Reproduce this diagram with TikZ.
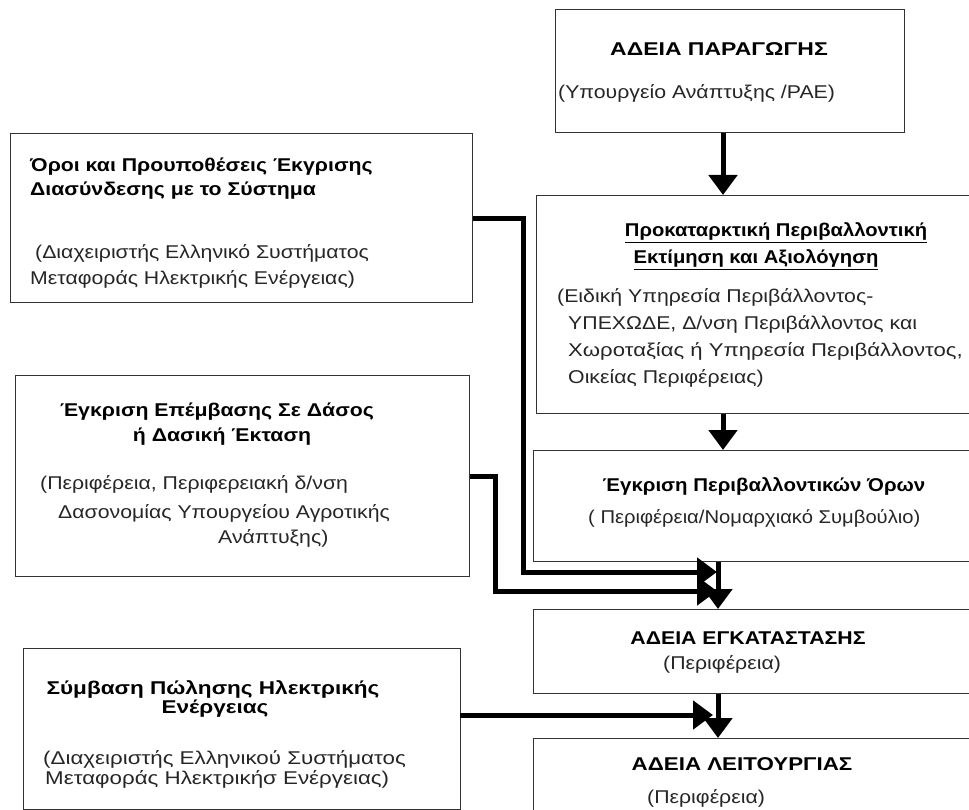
\documentclass[tikz,border=0pt]{standalone}
\usepackage{fontspec}
\setmainfont{Liberation Sans}[FakeStretch=1.15]
\usetikzlibrary{arrows.meta}
\newcommand{\sx}[2]{\scalebox{#1}[1]{#2}}
\begin{document}
\begin{tikzpicture}[x=1pt,y=-1pt,
  box/.style={draw=black!80, line width=1.3pt, rectangle, inner sep=0pt, anchor=north west},
  conn/.style={line width=5pt, black},
  arr/.style={-{Triangle[width=28pt,length=20pt]}},
  tt/.style={inner sep=0pt, font=\bfseries\fontsize{18.5}{22}\selectfont, text=black},
  st/.style={inner sep=0pt, font=\fontsize{18.5}{22}\selectfont, text=black!85}]
\useasboundingbox (0,0) rectangle (969,810);
\clip (0,0) rectangle (969,810);
\fill[white] (0,0) rectangle (969,810);

% boxes
\node[box, minimum width=349pt, minimum height=123pt] (b1) at (555,9) {};
\node[box, minimum width=444pt, minimum height=218pt] (b2) at (536,195) {};
\node[box, minimum width=462pt, minimum height=169pt] (b3) at (10,133) {};
\node[box, minimum width=454pt, minimum height=201pt] (b4) at (15,375) {};
\node[box, minimum width=447pt, minimum height=111pt] (b5) at (533,450) {};
\node[box, minimum width=447pt, minimum height=84pt] (b6) at (533,609) {};
\node[box, minimum width=447pt, minimum height=90pt] (b7) at (533,738) {};
\node[box, minimum width=437pt, minimum height=161pt] (b8) at (23,648) {};

% texts box 1
\node[tt, anchor=base] (t1) at (719,56) {\sx{1.08}{ΑΔΕΙΑ ΠΑΡΑΓΩΓΗΣ}};
\node[st, anchor=base west] (s1) at (558,99) {(Υπουργείο Ανάπτυξης /PAE)};

% box 3
\node[tt, anchor=base west] (t3a) at (30,172) {Όροι και Προυποθέσεις Έκγρισης};
\node[tt, anchor=base west] (t3b) at (30,196) {Διασύνδεσης με το Σύστημα};
\node[st, anchor=base west] (s3a) at (35,259) {(Διαχειριστής Ελληνικό Συστήματος};
\node[st, anchor=base west] (s3b) at (30,285) {Μεταφοράς Ηλεκτρικής Ενέργειας)};

% box 2
\node[tt, anchor=base] (t2a) at (776,237) {\underline{\sx{0.95}{Προκαταρκτική Περιβαλλοντική}}};
\node[tt, anchor=base] (t2b) at (756,264) {\underline{\sx{0.95}{Εκτίμηση και Αξιολόγηση}}};
\node[st, anchor=base west] (s2a) at (557,303) {(Ειδική Υπηρεσία Περιβάλλοντος-};
\node[st, anchor=base west] (s2b) at (568,330) {ΥΠΕΧΩΔΕ, Δ/νση Περιβάλλοντος και};
\node[st, anchor=base west] (s2c) at (568,356) {\sx{1.04}{Χωροταξίας ή Υπηρεσία Περιβάλλοντος,}};
\node[st, anchor=base west] (s2d) at (568,383) {Οικείας Περιφέρειας)};

% box 4
\node[tt, anchor=base] (t4a) at (217,416) {Έγκριση Επέμβασης Σε Δάσος};
\node[tt, anchor=base] (t4b) at (222,441) {ή Δασική Έκταση};
\node[st, anchor=base west] (s4a) at (40,489) {(Περιφέρεια, Περιφερειακή δ/νση};
\node[st, anchor=base west] (s4b) at (58,518) {Δασονομίας Υπουργείου Αγροτικής};
\node[st, anchor=base west] (s4c) at (218,543) {Ανάπτυξης)};

% box 5
\node[tt, anchor=base] (t5) at (764,491) {\sx{0.96}{Έγκριση Περιβαλλοντικών Όρων}};
\node[st, anchor=base west] (s5) at (588,523) {\sx{0.95}{( Περιφέρεια/Νομαρχιακό Συμβούλιο)}};

% box 6
\node[tt, anchor=base] (t6) at (748,644) {ΑΔΕΙΑ ΕΓΚΑΤΑΣΤΑΣΗΣ};
\node[st, anchor=base west] (s6) at (663,669) {(Περιφέρεια)};

% box 7
\node[tt, anchor=base] (t7) at (742,770) {\sx{1.05}{ΑΔΕΙΑ ΛΕΙΤΟΥΡΓΙΑΣ}};
\node[st, anchor=base west] (s7) at (647,803) {(Περιφέρεια)};

% box 8
\node[tt, anchor=base] (t8a) at (213,694) {\sx{1.06}{Σύμβαση Πώλησης Ηλεκτρικής}};
\node[tt, anchor=base] (t8b) at (215,713) {\sx{1.06}{Ενέργειας}};
\node[st, anchor=base west] (s8a) at (43,764) {\sx{1.05}{(Διαχειριστής Ελληνικού Συστήματος}};
\node[st, anchor=base west] (s8b) at (45,784) {\sx{1.05}{Μεταφοράς Ηλεκτρικήσ Ενέργειας)}};

% connector helper coordinates
\coordinate (ax) at (723,0);
\coordinate (bx) at (718,0);
\coordinate (k3) at (523,572);
\coordinate (e3) at (717,572);
\coordinate (k4) at (495,591);
\coordinate (e4) at (717,591);
\coordinate (o8) at (460,715);
\coordinate (e8) at (713,715);

% connectors
\draw[conn, arr] (ax |- b1.south) -- (ax |- b2.north);
\draw[conn, arr] (ax |- b2.south) -- (ax |- b5.north);
\draw[conn, arr] (bx |- b5.south) -- (bx |- b6.north);
\draw[conn, arr] (bx |- b6.south) -- (bx |- b7.north);
\draw[conn, arr] (b3.east) -| (k3) -- (e3);
\draw[conn, arr] (b4.east) -| (k4) -- (e4);
\draw[conn, arr] (o8) -- (e8);
\end{tikzpicture}
\end{document}
